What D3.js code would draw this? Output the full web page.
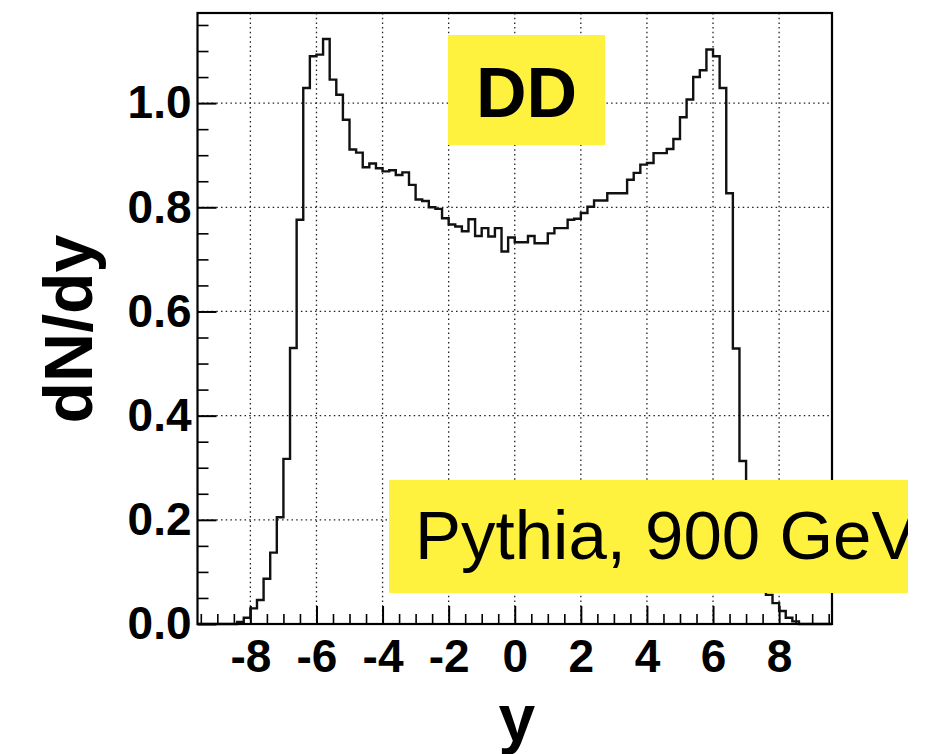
<!DOCTYPE html>
<meta charset="utf-8">
<style>
body{
  margin:0;
  background:#fff;
}
svg text{
  font-family:"Liberation Sans", Arial, Helvetica, sans-serif;
}
.tick text{
  font-weight:bold;
  font-size:46px;
  fill:#000;
}
.tick line{
  stroke:#000;
}
.grid line{
  stroke:#222;
  stroke-width:1.3px;
  stroke-dasharray:1.5,3.2;
}
.hist{
  fill:none;
  stroke:#111;
  stroke-width:2.4px;
}
</style>
<body>
<script src="https://cdn.jsdelivr.net/npm/d3@7"></script>
<script>
// histogram: 96 bins of width 0.2 starting at -9.6
var binStart = -9.6, binWidth = 0.2;
var counts = [
  0, 0, 0, 0, 0, 0,
  0.004, 0.012, 0.030, 0.046, 0.087, 0.137, 0.205, 0.317, 0.530, 0.776,
  1.029, 1.090, 1.093, 1.123, 1.045, 1.016, 0.968, 0.911, 0.905, 0.877,
  0.884, 0.875, 0.869, 0.871, 0.862, 0.867, 0.843, 0.815, 0.812, 0.800,
  0.797, 0.779, 0.767, 0.763, 0.754, 0.777, 0.745, 0.760, 0.744, 0.760,
  0.715, 0.742, 0.733, 0.733, 0.745, 0.731, 0.731, 0.750, 0.760, 0.760,
  0.776, 0.778, 0.789, 0.801, 0.813, 0.813, 0.827, 0.827, 0.827, 0.853,
  0.866, 0.882, 0.885, 0.904, 0.904, 0.912, 0.931, 0.973, 1.007, 1.050,
  1.063, 1.103, 1.090, 1.029, 0.827, 0.529, 0.313, 0.205, 0.135, 0.088,
  0.056, 0.040, 0.025, 0.012, 0.005,
  0, 0, 0, 0, 0
];
var xTicks = [-8, -6, -4, -2, 0, 2, 4, 6, 8];
var yTicks = [0, 0.2, 0.4, 0.6, 0.8, 1.0];
var yTickLabels = ["0.0", "0.2", "0.4", "0.6", "0.8", "1.0"];
var xDomain = [-9.6, 9.6], yDomain = [0, 1.173];
var xTitle = "y", yTitle = "dN/dy";
var label1 = "DD", label2 = "Pythia, 900 GeV";

var W = 927, H = 754;
var L = 197.5, R = 832, T = 13, B = 624;

var svg = d3.select("body").append("svg").attr("width", W).attr("height", H);

var x = d3.scaleLinear().domain(xDomain).range([L, R]);
var y = d3.scaleLinear().domain(yDomain).range([B, T]);

// grid
var grid = svg.append("g").attr("class", "grid");
grid.selectAll(".gx").data(xTicks).enter().append("line")
  .attr("x1", function(d){ return x(d); }).attr("x2", function(d){ return x(d); })
  .attr("y1", T).attr("y2", B);
grid.selectAll(".gy").data(yTicks.slice(1)).enter().append("line")
  .attr("x1", L).attr("x2", R)
  .attr("y1", function(d){ return y(d); }).attr("y2", function(d){ return y(d); });

// minor ticks
var xMinor = d3.range(-19, 20).map(function(i){ return i * 0.5; }).filter(function(d){ return d % 2 != 0; });
var yMinor = d3.range(0, 24).map(function(i){ return i * 0.05; }).filter(function(d){ return Math.abs(d*5 - Math.round(d*5)) > 1e-6; });

svg.append("g").attr("transform", "translate(0," + B + ")")
  .call(d3.axisBottom(x).tickValues(xMinor).tickSize(-10).tickFormat(""))
  .call(function(g){ g.select(".domain").remove(); g.selectAll("line").attr("stroke-width", 1.6); });
svg.append("g").attr("transform", "translate(" + L + ",0)")
  .call(d3.axisLeft(y).tickValues(yMinor).tickSize(-11).tickFormat(""))
  .call(function(g){ g.select(".domain").remove(); g.selectAll("line").attr("stroke-width", 1.6); });

// major ticks + labels
svg.append("g").attr("transform", "translate(0," + B + ")")
  .call(d3.axisBottom(x).tickValues(xTicks).tickSize(-18).tickPadding(15).tickFormat(d3.format("d")))
  .call(function(g){ g.select(".domain").remove(); g.selectAll("line").attr("stroke-width", 2); });
svg.append("g").attr("transform", "translate(" + L + ",0)")
  .call(d3.axisLeft(y).tickValues(yTicks).tickSize(-19).tickPadding(6)
    .tickFormat(function(d, i){ return yTickLabels[i]; }))
  .call(function(g){ g.select(".domain").remove(); g.selectAll("line").attr("stroke-width", 2); });

d3.selectAll(".tick text").attr("font-family", null);
// d3 uses unicode minus; use hyphen like the original
svg.selectAll(".tick text").text(function(){ return this.textContent.replace("\u2212", "-"); });

// histogram
var pts = counts.map(function(c, i){ return [binStart + i * binWidth, c]; });
pts.push([binStart + counts.length * binWidth, counts[counts.length - 1]]);
var line = d3.line().curve(d3.curveStepAfter)
  .x(function(d){ return x(d[0]); }).y(function(d){ return y(d[1]); });
svg.append("path").attr("class", "hist").attr("d", line(pts));

// frame
svg.append("rect").attr("x", L).attr("y", T).attr("width", R - L).attr("height", B - T)
  .attr("fill", "none").attr("stroke", "#000").attr("stroke-width", 2.2);

// axis titles
svg.append("text").attr("x", x(0) + 2).attr("y", 741).attr("text-anchor", "middle")
  .attr("font-weight", "bold").attr("font-size", 66).text(xTitle);
svg.append("text").attr("transform", "translate(" + 92 + "," + 329 + ") rotate(-90)")
  .attr("text-anchor", "middle").attr("font-weight", "bold").attr("font-size", 68).text(yTitle);

// DD label
svg.append("rect").attr("x", 448).attr("y", 35).attr("width", 157).attr("height", 110).attr("fill", "#fff23f");
svg.append("text").attr("x", 526.5).attr("y", 117).attr("text-anchor", "middle")
  .attr("font-weight", "bold").attr("font-size", 70).text(label1);

// Pythia label (clipped at its box edge)
svg.append("clipPath").attr("id", "clipP").append("rect")
  .attr("x", 389).attr("y", 480).attr("width", 519).attr("height", 113);
svg.append("rect").attr("x", 389).attr("y", 480).attr("width", 519).attr("height", 113).attr("fill", "#fff23f");
svg.append("text").attr("clip-path", "url(#clipP)").attr("x", 415).attr("y", 559)
  .attr("font-size", 69).text(label2);
</script>
</body>
